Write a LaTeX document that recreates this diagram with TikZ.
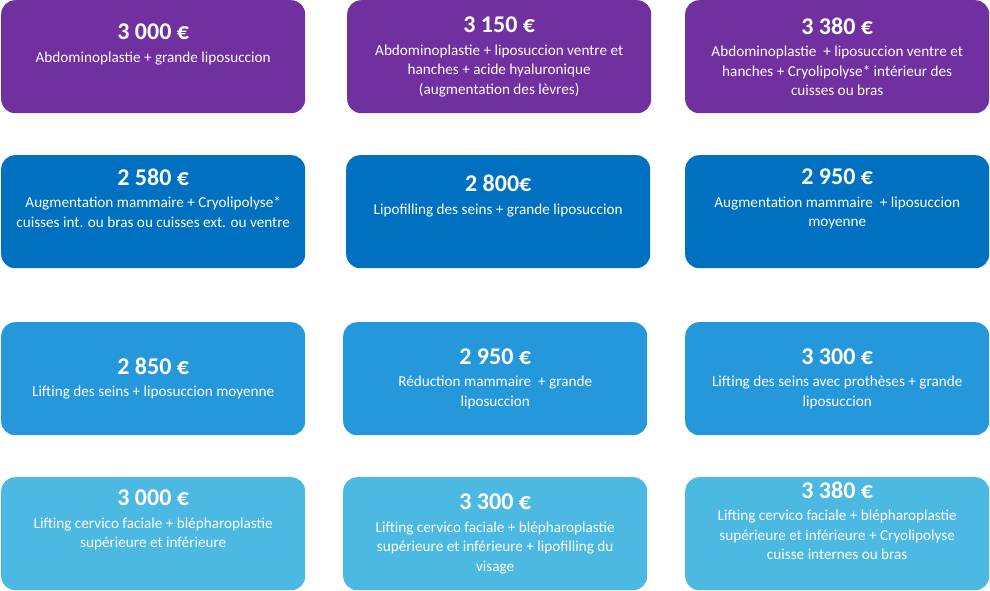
\documentclass[tikz,border=0pt]{standalone}
\usepackage{fontspec}
\setmainfont{Carlito}
\definecolor{row-purple}{RGB}{112, 48, 160}
\definecolor{row-blue}{RGB}{0, 112, 192}
\definecolor{row-mid}{RGB}{37, 152, 220}
\definecolor{row-light}{RGB}{75, 185, 225}
\tikzset{
  offer/.style={fill=#1, draw=none, rounded corners=14pt, minimum width=304pt,
    minimum height=113pt, text=white, align=center, font=\fontsize{15.2}{19.5}\selectfont,
    inner sep=0pt, anchor=north west},
}
\newcommand{\price}[1]{{\fontsize{24}{29}\selectfont\bfseries #1}\\[3pt]}
\begin{document}
\begin{tikzpicture}[x=1pt, y=-1pt]
\useasboundingbox (0,0) rectangle (990,591);

\node[offer=row-purple] (p11) at (1,0) {\price{3 000 €}Abdominoplastie + grande liposuccion\\[8pt]};
\node[offer=row-purple] (p12) at (347,0) {\price{3 150 €}Abdominoplastie + liposuccion ventre et\\hanches + acide hyaluronique\\(augmentation des lèvres)};
\node[offer=row-purple] (p13) at (685,0) {\price{3 380 €}Abdominoplastie \ + liposuccion ventre et\\hanches + Cryolipolyse* intérieur des\\cuisses ou bras};

\node[offer=row-blue] (p21) at (1,155) {\price{2 580 €}Augmentation mammaire + Cryolipolyse*\\cuisses int. ou bras ou cuisses ext. ou ventre\\[8pt]};
\node[offer=row-blue] (p22) at (346,155) {\price{2 800€}Lipofilling des seins + grande liposuccion\\[14pt]};
\node[offer=row-blue] (p23) at (685,155) {\price{2 950 €}Augmentation mammaire \ + liposuccion\\moyenne\\[8pt]};

\node[offer=row-mid] (p31) at (1,322) {\price{2 850 €}Lifting des seins + liposuccion moyenne};
\node[offer=row-mid] (p32) at (343,322) {\price{2 950 €}Réduction mammaire \ + grande\\liposuccion};
\node[offer=row-mid] (p33) at (685,322) {\price{3 300 €}Lifting des seins avec prothèses + grande\\liposuccion};

\node[offer=row-light] (p41) at (1,477) {\price{3 000 €}Lifting cervico faciale + blépharoplastie\\supérieure et inférieure\\[10pt]};
\node[offer=row-light] (p42) at (343,477) {\price{3 300 €}Lifting cervico faciale + blépharoplastie\\supérieure et inférieure + lipofilling du\\visage};
\node[offer=row-light] (p43) at (685,477) {\price{3 380 €}Lifting cervico faciale + blépharoplastie\\supérieure et inférieure + Cryolipolyse\\cuisse internes ou bras\\[6pt]};
\end{tikzpicture}
\end{document}
